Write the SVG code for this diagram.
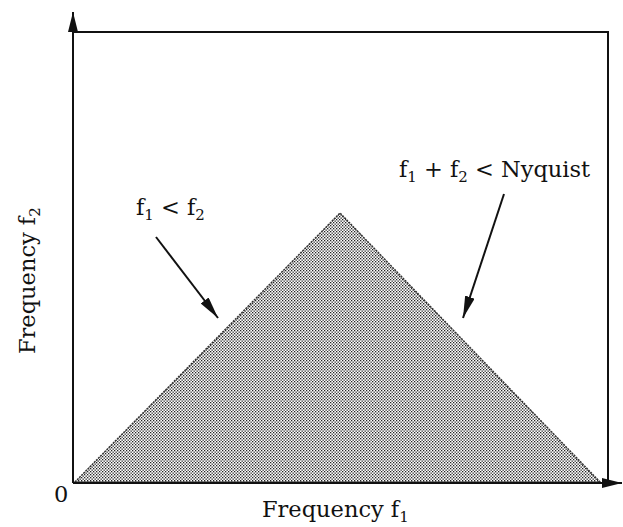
<svg xmlns="http://www.w3.org/2000/svg" width="623" height="527" viewBox="0 0 623 527">
<style>
.t{font-family:"DejaVu Serif","Liberation Serif",serif;font-size:22.5px;fill:#111}
.s{font-size:15px}
.ax{stroke:#111;stroke-width:2;fill:none}
.ar{stroke:#111;stroke-width:2;fill:none}
</style>
<defs>
<pattern id="dots" width="3" height="3" patternUnits="userSpaceOnUse">
<rect width="3" height="3" fill="#fff"/>
<rect x="0" y="0" width="1.3" height="1.3" fill="#222"/>
<rect x="1.5" y="1.5" width="1.3" height="1.3" fill="#222"/>
</pattern>
<marker id="ah" viewBox="0 0 22 10" refX="22" refY="5" markerWidth="22" markerHeight="10" markerUnits="userSpaceOnUse" orient="auto">
<path d="M0,0 L22,5 L0,10 Z" fill="#111"/>
</marker>
<marker id="axh" viewBox="0 0 20 10" refX="20" refY="5" markerWidth="20" markerHeight="10" markerUnits="userSpaceOnUse" orient="auto">
<path d="M0,0 L20,5 L0,10 Z" fill="#111"/>
</marker>
</defs>
<g id="region">
<path d="M75,482 L340,213 L600,482 Z" fill="url(#dots)" stroke="#333" stroke-width="1.5" stroke-dasharray="2,1"/>
</g>
<g id="axes">
<line class="ax" x1="73" y1="483" x2="73" y2="12" marker-end="url(#axh)"/>
<line class="ax" x1="73" y1="483" x2="622" y2="483" marker-end="url(#axh)"/>
<polyline class="ax" points="73,32 608,32 608,483"/>
</g>
<g id="connectors">
<line class="ar" x1="156" y1="237" x2="218" y2="318" marker-end="url(#ah)"/>
<line class="ar" x1="504" y1="194" x2="463" y2="318" marker-end="url(#ah)"/>
</g>
<g id="labels">
<text class="t" x="136" y="215">f<tspan class="s" dy="5">1</tspan><tspan dy="-5"> &lt; f</tspan><tspan class="s" dy="5">2</tspan></text>
<text class="t" x="399" y="177">f<tspan class="s" dy="5">1</tspan><tspan dy="-5"> + f</tspan><tspan class="s" dy="5">2</tspan><tspan dy="-5"> &lt; Nyquist</tspan></text>
<text class="t" x="262" y="517">Frequency f<tspan class="s" dy="5">1</tspan></text>
<text class="t" transform="translate(35,354) rotate(-90)">Frequency f<tspan class="s" dy="5">2</tspan></text>
<text class="t" x="54" y="502">0</text>
</g>
</svg>
